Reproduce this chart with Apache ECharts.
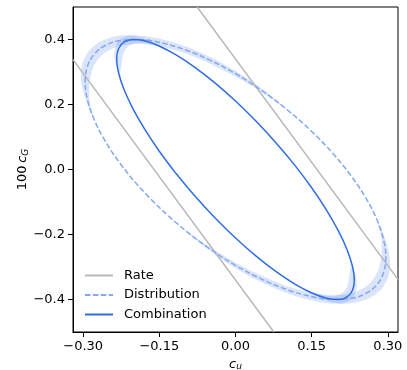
<!DOCTYPE html>
<html>
<head>
<meta charset="utf-8">
<style>
  html, body { margin: 0; padding: 0; background: #fff; }
  #main { width: 407px; height: 370px; }
</style>
</head>
<body>
<div id="main"></div>
<script src="https://cdn.jsdelivr.net/npm/echarts@6/dist/echarts.min.js"></script>
<script>
// tick labels
var xTicks = [-0.3, -0.15, 0, 0.15, 0.3];
var yTicks = [-0.4, -0.2, 0, 0.2, 0.4];

// rate constraint: two parallel lines
var rateLineA = [[-0.0755, 0.5], [0.32, -0.338]];
var rateLineB = [[-0.32, 0.338], [0.0755, -0.5]];

// distribution contour (dashed)
var distPts = [
  [-0.148, -0.1201], [-0.1903, -0.052], [-0.2267, 0.0176], [-0.2563, 0.0868],
  [-0.2782, 0.1533], [-0.2915, 0.2151], [-0.296, 0.2704], [-0.2915, 0.3175],
  [-0.2782, 0.3549], [-0.2563, 0.3816], [-0.2267, 0.3966], [-0.1903, 0.3996],
  [-0.148, 0.3905], [-0.1012, 0.3695], [-0.0514, 0.3372], [0, 0.2948],
  [0.0514, 0.2434], [0.1012, 0.1845], [0.148, 0.1201], [0.1903, 0.052],
  [0.2267, -0.0176], [0.2563, -0.0868], [0.2782, -0.1533], [0.2915, -0.2151],
  [0.296, -0.2704], [0.2915, -0.3175], [0.2782, -0.3549], [0.2563, -0.3816],
  [0.2267, -0.3966], [0.1903, -0.3996], [0.148, -0.3905], [0.1012, -0.3695],
  [0.0514, -0.3372], [0, -0.2948], [-0.0514, -0.2434], [-0.1012, -0.1845],
  [-0.148, -0.1201]
];
// relative half width of the shaded band along the distribution contour
var distBand = [
  0, 0, 0, 0, 0, 0.015, 0.028, 0.033, 0.034, 0.034, 0.034, 0.034, 0.034,
  0.034, 0.034, 0.03, 0.018, 0, 0, 0, 0, 0, 0, 0.015, 0.028, 0.033, 0.034,
  0.034, 0.034, 0.034, 0.034, 0.034, 0.034, 0.03, 0.018, 0, 0
];

// combination contour (solid)
var combPts = [
  [-0.117, -0.0126], [-0.1504, 0.0571], [-0.1792, 0.1249], [-0.2026, 0.189],
  [-0.2199, 0.2474], [-0.2304, 0.2982], [-0.234, 0.34], [-0.2304, 0.3714],
  [-0.2199, 0.3916], [-0.2026, 0.3998], [-0.1792, 0.3959], [-0.1504, 0.3801],
  [-0.117, 0.3526], [-0.08, 0.3144], [-0.0406, 0.2666], [0, 0.2108],
  [0.0406, 0.1486], [0.08, 0.0818], [0.117, 0.0126], [0.1504, -0.0571],
  [0.1792, -0.1249], [0.2026, -0.189], [0.2199, -0.2474], [0.2304, -0.2982],
  [0.234, -0.34], [0.2304, -0.3714], [0.2199, -0.3916], [0.2026, -0.3998],
  [0.1792, -0.3959], [0.1504, -0.3801], [0.117, -0.3526], [0.08, -0.3144],
  [0.0406, -0.2666], [0, -0.2108], [-0.0406, -0.1486], [-0.08, -0.0818],
  [-0.117, -0.0126]
];
var combBandOut = [
  0, 0, 0, 0, 0, 0.008, 0.02, 0.024, 0.028, 0.03, 0.025, 0.012, 0,
  0, 0, 0, 0, 0, 0, 0, 0, 0, 0, 0.008, 0.02, 0.024, 0.028, 0.03, 0.025, 0.012,
  0, 0, 0, 0, 0, 0, 0
];
var combBandIn = [
  0, 0, 0, 0, 0, 0.015, 0.042, 0.042, 0.035, 0.028, 0.02, 0.01, 0,
  0, 0, 0, 0, 0, 0, 0, 0, 0, 0, 0.015, 0.042, 0.042, 0.035, 0.028, 0.02, 0.01,
  0, 0, 0, 0, 0, 0, 0
];

var FONT = 'DejaVu Sans';
var blue = '#2f6de2';
var lightBlue = '#85a8f0';
var bandFill = 'rgba(70, 120, 230, 0.2)';
var grey = '#b8b8b8';

// build closed outlines of the shaded bands from the contour + widths
function bandPolys(pts, wOut, wIn) {
  var polys = [];
  var i = 0;
  while (i < pts.length) {
    if (wOut[i] > 0 || wIn[i] > 0) {
      var s = i - 1, e = i;
      while (e < pts.length && (wOut[e] > 0 || wIn[e] > 0)) e++;
      var poly = [];
      for (var k = s; k <= e; k++) poly.push([pts[k][0] * (1 + wOut[k]), pts[k][1] * (1 + wOut[k])]);
      for (var k = e - 1; k > s; k--) poly.push([pts[k][0] * (1 - wIn[k]), pts[k][1] * (1 - wIn[k])]);
      polys.push(poly);
      i = e;
    } else {
      i++;
    }
  }
  return polys;
}
var polys = bandPolys(distPts, distBand, distBand).concat(bandPolys(combPts, combBandOut, combBandIn));

var myChart = echarts.init(document.getElementById('main'));
var option = {
  animation: false,
  grid: {
    left: 73, right: 9, top: 7, bottom: 38,
    outerBoundsMode: 'none', containLabel: false,
    show: true, borderColor: '#000', borderWidth: 1
  },
  legend: {
    data: ['Rate', 'Distribution', 'Combination'],
    orient: 'vertical',
    left: 84, top: 269,
    padding: 0,
    itemWidth: 28, itemHeight: 14, itemGap: 6.5,
    itemStyle: { opacity: 0, borderWidth: 0 },
    textStyle: { fontFamily: FONT, fontSize: 13, color: '#000', padding: [0, 0, 0, 6] }
  },
  xAxis: {
    type: 'value', min: -0.32, max: 0.32,
    splitLine: { show: false },
    axisLine: { onZero: false, lineStyle: { color: '#000', width: 1 } },
    axisTick: { customValues: xTicks, length: 5, lineStyle: { color: '#000' } },
    axisLabel: {
      customValues: xTicks, color: '#000', fontFamily: FONT, fontSize: 13, margin: 8,
      formatter: function (v) { return v.toFixed(2).replace('-', '\u2212'); }
    },
    name: '{i|c}{s|u}',
    nameLocation: 'middle', nameGap: 24,
    nameTextStyle: {
      rich: {
        i: { fontFamily: FONT, fontStyle: 'italic', fontSize: 13, color: '#000', lineHeight: 14 },
        s: { fontFamily: FONT, fontStyle: 'italic', fontSize: 9, color: '#000', lineHeight: 9, verticalAlign: 'bottom', padding: [4, 0, 0, 0] }
      }
    }
  },
  yAxis: {
    type: 'value', min: -0.5, max: 0.5,
    splitLine: { show: false },
    axisLine: { onZero: false, lineStyle: { color: '#000', width: 1 } },
    axisTick: { customValues: yTicks, length: 5, lineStyle: { color: '#000' } },
    axisLabel: {
      customValues: yTicks, color: '#000', fontFamily: FONT, fontSize: 13, margin: 8,
      formatter: function (v) { return v.toFixed(1).replace('-', '\u2212'); }
    },
    name: '{n|100\u2009}{i|c}{s|G}',
    nameLocation: 'middle', nameGap: 43, nameRotate: 90, nameMoveOverlap: false,
    nameTextStyle: {
      rich: {
        n: { fontFamily: FONT, fontSize: 13, color: '#000', lineHeight: 14 },
        i: { fontFamily: FONT, fontStyle: 'italic', fontSize: 13, color: '#000', lineHeight: 14 },
        s: { fontFamily: FONT, fontStyle: 'italic', fontSize: 9, color: '#000', lineHeight: 9, verticalAlign: 'bottom', padding: [4, 0, 0, 0] }
      }
    }
  },
  series: [
    {
      type: 'custom',
      silent: true,
      data: polys.map(function () { return [0, 0]; }),
      renderItem: function (params, api) {
        var poly = polys[params.dataIndex];
        return {
          type: 'polygon',
          shape: { points: poly.map(function (p) { return api.coord(p); }), smooth: 0.3 },
          style: { fill: bandFill }
        };
      },
      z: 1
    },
    {
      name: 'Rate', type: 'line', data: rateLineA, symbol: 'none',
      lineStyle: { color: grey, width: 1.5 }, itemStyle: { color: grey }, z: 2
    },
    {
      name: 'Rate', type: 'line', data: rateLineB, symbol: 'none',
      lineStyle: { color: grey, width: 1.5 }, itemStyle: { color: grey }, z: 2
    },
    {
      name: 'Distribution', type: 'line', data: distPts, symbol: 'none', smooth: 0.4,
      lineStyle: { color: lightBlue, width: 1.5, type: [5.5, 2.4] }, itemStyle: { color: lightBlue }, z: 3
    },
    {
      name: 'Combination', type: 'line', data: combPts, symbol: 'none', smooth: 0.4,
      lineStyle: { color: blue, width: 1.5 }, itemStyle: { color: blue }, z: 4
    }
  ]
};
myChart.setOption(option);
</script>
</body>
</html>
